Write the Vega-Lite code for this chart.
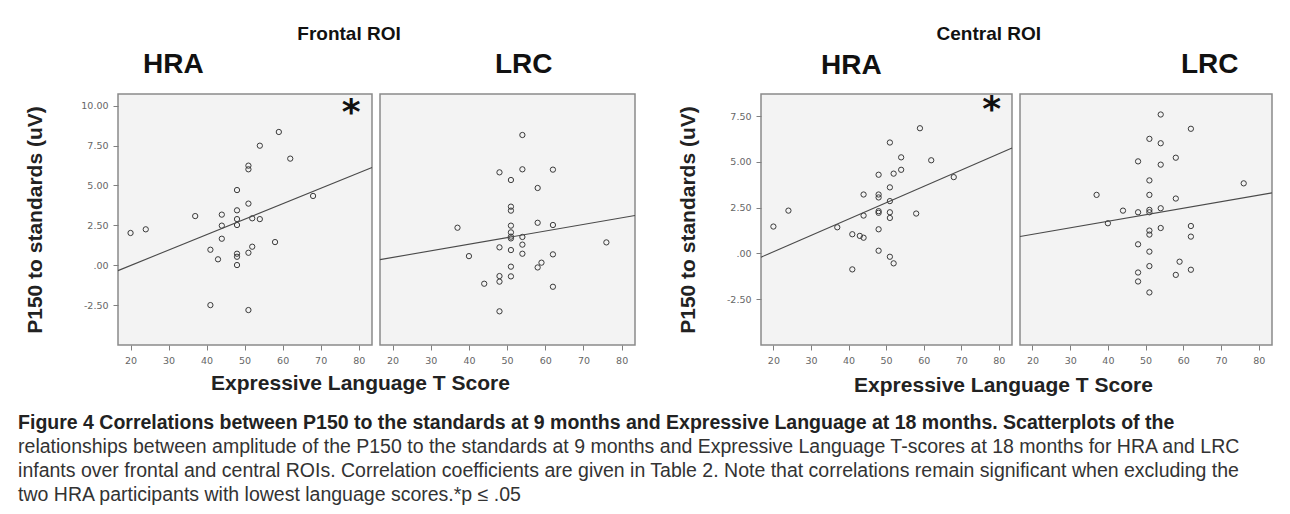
{
  "$schema": "https://vega.github.io/schema/vega-lite/v6.json",
  "background": "white",
  "padding": {"left": 18, "top": 25, "right": 5, "bottom": 3},
  "title": {
    "text": "Figure 4 Correlations between P150 to the standards at 9 months and Expressive Language at 18 months. Scatterplots of the",
    "subtitle": [
      "relationships between amplitude of the P150 to the standards at 9 months and Expressive Language T-scores at 18 months for HRA and LRC",
      "infants over frontal and central ROIs. Correlation coefficients are given in Table 2. Note that correlations remain significant when excluding the",
      "two HRA participants with lowest language scores.*p ≤ .05"
    ],
    "orient": "bottom",
    "anchor": "start",
    "dx": -6,
    "offset": 18,
    "font": "Liberation Sans",
    "fontSize": 19.5,
    "fontWeight": "bold",
    "color": "#222",
    "subtitleFont": "Liberation Sans",
    "subtitleFontSize": 19.5,
    "subtitleColor": "#333",
    "subtitlePadding": 4.5,
    "subtitleLineHeight": 24
  },
  "datasets": {
    "fhra": [
      {"score": 20, "p150": 2.02}, {"score": 24, "p150": 2.25}, {"score": 37, "p150": 3.08}, {"score": 44, "p150": 3.17},
      {"score": 44, "p150": 2.48}, {"score": 44, "p150": 1.66}, {"score": 41, "p150": 0.97}, {"score": 43, "p150": 0.37},
      {"score": 41, "p150": -2.5}, {"score": 48, "p150": 4.71}, {"score": 48, "p150": 3.44}, {"score": 48, "p150": 2.89},
      {"score": 48, "p150": 2.52}, {"score": 48, "p150": 0.72}, {"score": 48, "p150": 0.53}, {"score": 48, "p150": 0.01},
      {"score": 51, "p150": 6.24}, {"score": 51, "p150": 6.01}, {"score": 51, "p150": 3.86}, {"score": 52, "p150": 2.94},
      {"score": 52, "p150": 1.16}, {"score": 51, "p150": 0.78}, {"score": 51, "p150": -2.81}, {"score": 54, "p150": 7.49},
      {"score": 54, "p150": 2.89}, {"score": 58, "p150": 1.45}, {"score": 59, "p150": 8.35}, {"score": 62, "p150": 6.68},
      {"score": 68, "p150": 4.34}
    ],
    "flrc": [
      {"score": 54, "p150": 8.16}, {"score": 48, "p150": 5.82}, {"score": 54, "p150": 6.01}, {"score": 62, "p150": 5.99},
      {"score": 51, "p150": 5.34}, {"score": 58, "p150": 4.84}, {"score": 51, "p150": 3.67}, {"score": 51, "p150": 3.42},
      {"score": 37, "p150": 2.35}, {"score": 51, "p150": 2.48}, {"score": 51, "p150": 2.06}, {"score": 51, "p150": 1.79},
      {"score": 51, "p150": 1.68}, {"score": 54, "p150": 1.77}, {"score": 58, "p150": 2.66}, {"score": 62, "p150": 2.52},
      {"score": 76, "p150": 1.43}, {"score": 48, "p150": 1.12}, {"score": 51, "p150": 0.95}, {"score": 54, "p150": 1.29},
      {"score": 54, "p150": 0.72}, {"score": 40, "p150": 0.57}, {"score": 62, "p150": 0.68}, {"score": 51, "p150": -0.09},
      {"score": 59, "p150": 0.16}, {"score": 58, "p150": -0.14}, {"score": 48, "p150": -0.68}, {"score": 48, "p150": -1.03},
      {"score": 51, "p150": -0.7}, {"score": 44, "p150": -1.16}, {"score": 62, "p150": -1.35}, {"score": 48, "p150": -2.89}
    ],
    "chra": [
      {"score": 20, "p150": 1.47}, {"score": 24, "p150": 2.34}, {"score": 37, "p150": 1.43}, {"score": 41, "p150": 1.05},
      {"score": 43, "p150": 0.96}, {"score": 44, "p150": 0.86}, {"score": 41, "p150": -0.87}, {"score": 44, "p150": 3.22},
      {"score": 44, "p150": 2.07}, {"score": 48, "p150": 4.3}, {"score": 48, "p150": 3.22}, {"score": 48, "p150": 3.06},
      {"score": 48, "p150": 2.31}, {"score": 48, "p150": 2.22}, {"score": 48, "p150": 1.32}, {"score": 48, "p150": 0.15},
      {"score": 51, "p150": 6.06}, {"score": 51, "p150": 3.61}, {"score": 51, "p150": 2.86}, {"score": 51, "p150": 2.25},
      {"score": 51, "p150": 1.94}, {"score": 51, "p150": -0.18}, {"score": 52, "p150": 4.36}, {"score": 52, "p150": -0.54},
      {"score": 54, "p150": 5.25}, {"score": 54, "p150": 4.57}, {"score": 58, "p150": 2.18}, {"score": 59, "p150": 6.84},
      {"score": 62, "p150": 5.09}, {"score": 68, "p150": 4.17}
    ],
    "clrc": [
      {"score": 54, "p150": 7.59}, {"score": 62, "p150": 6.81}, {"score": 51, "p150": 6.26}, {"score": 54, "p150": 6.02},
      {"score": 58, "p150": 5.23}, {"score": 48, "p150": 5.03}, {"score": 54, "p150": 4.85}, {"score": 51, "p150": 3.99},
      {"score": 76, "p150": 3.83}, {"score": 37, "p150": 3.2}, {"score": 51, "p150": 3.2}, {"score": 58, "p150": 3.0},
      {"score": 44, "p150": 2.34}, {"score": 48, "p150": 2.25}, {"score": 51, "p150": 2.38}, {"score": 51, "p150": 2.25},
      {"score": 54, "p150": 2.47}, {"score": 40, "p150": 1.65}, {"score": 51, "p150": 1.25}, {"score": 51, "p150": 1.03},
      {"score": 54, "p150": 1.39}, {"score": 62, "p150": 1.5}, {"score": 62, "p150": 0.92}, {"score": 48, "p150": 0.5},
      {"score": 51, "p150": 0.1}, {"score": 59, "p150": -0.45}, {"score": 51, "p150": -0.69}, {"score": 48, "p150": -1.04},
      {"score": 58, "p150": -1.17}, {"score": 62, "p150": -0.89}, {"score": 48, "p150": -1.53}, {"score": 51, "p150": -2.13}
    ]
  },
  "spacing": 38,
  "hconcat": [
    {
      "title": {"text": "Frontal ROI", "font": "Liberation Sans", "fontSize": 19, "fontWeight": "bold", "anchor": "middle", "baseline": "bottom", "dx": 18, "offset": -13, "color": "#111"},
      "bounds": "flush",
      "spacing": 8,
      "hconcat": [
        {
          "width": 254, "height": 251,
          "data": {"name": "fhra"},
          "title": {"text": "HRA", "font": "Liberation Sans", "fontSize": 28, "fontWeight": "bold", "anchor": "start", "frame": "group", "dx": 25, "offset": -13, "baseline": "bottom", "color": "#111"},
          "encoding": {
            "x": {"field": "score", "type": "quantitative", "scale": {"domain": [16.7, 83.5], "nice": false, "zero": false},
                  "axis": {"values": [20, 30, 40, 50, 60, 70, 80], "format": "d", "title": "Expressive Language T Score", "titleX": 242, "titleAlign": "center", "titlePadding": 8}},
            "y": {"field": "p150", "type": "quantitative", "scale": {"domain": [-5, 10.73], "nice": false, "zero": false},
                  "axis": {"values": [-2.5, 0, 2.5, 5, 7.5, 10], "labelExpr": "datum.value == 0 ? '.00' : replace(format(datum.value, '.2f'), '\u2212', '-')", "title": "P150 to standards (uV)", "titlePadding": 35}}
          },
          "layer": [
            {"mark": {"type": "point", "filled": false, "stroke": "#3a3a3a", "strokeWidth": 1, "size": 28, "opacity": 1}},
            {"transform": [{"regression": "p150", "on": "score", "extent": [16.7, 83.5]}], "mark": {"type": "line", "color": "#4a4a4a", "strokeWidth": 1.1}},
            {"data": {"values": [{"score": 78.0, "p150": 8.85, "sym": "*"}]}, "mark": {"type": "text", "font": "DejaVu Sans", "fontWeight": "bold", "fontSize": 36, "baseline": "alphabetic", "align": "center", "color": "#111"}, "encoding": {"text": {"field": "sym"}}}
          ]
        },
        {
          "width": 255, "height": 251,
          "data": {"name": "flrc"},
          "title": {"text": "LRC", "font": "Liberation Sans", "fontSize": 28, "fontWeight": "bold", "anchor": "start", "frame": "group", "dx": 115, "offset": -13, "baseline": "bottom", "color": "#111"},
          "encoding": {
            "x": {"field": "score", "type": "quantitative", "scale": {"domain": [16.7, 83.5], "nice": false, "zero": false},
                  "axis": {"values": [20, 30, 40, 50, 60, 70, 80], "format": "d", "title": null}},
            "y": {"field": "p150", "type": "quantitative", "scale": {"domain": [-5, 10.73], "nice": false, "zero": false}, "axis": null}
          },
          "layer": [
            {"mark": {"type": "point", "filled": false, "stroke": "#3a3a3a", "strokeWidth": 1, "size": 28, "opacity": 1}},
            {"transform": [{"regression": "p150", "on": "score", "extent": [16.7, 83.5]}], "mark": {"type": "line", "color": "#4a4a4a", "strokeWidth": 1.1}}
          ]
        }
      ]
    },
    {
      "title": {"text": "Central ROI", "font": "Liberation Sans", "fontSize": 19, "fontWeight": "bold", "anchor": "middle", "baseline": "bottom", "dx": 13, "offset": -13, "color": "#111"},
      "bounds": "flush",
      "spacing": 8,
      "hconcat": [
        {
          "width": 251, "height": 251,
          "data": {"name": "chra"},
          "title": {"text": "HRA", "font": "Liberation Sans", "fontSize": 28, "fontWeight": "bold", "anchor": "start", "frame": "group", "dx": 60, "offset": -16, "baseline": "bottom", "color": "#111"},
          "encoding": {
            "x": {"field": "score", "type": "quantitative", "scale": {"domain": [16.7, 83.5], "nice": false, "zero": false},
                  "axis": {"values": [20, 30, 40, 50, 60, 70, 80], "format": "d", "title": "Expressive Language T Score", "titleX": 242, "titleAlign": "center", "titlePadding": 10}},
            "y": {"field": "p150", "type": "quantitative", "scale": {"domain": [-5, 8.71], "nice": false, "zero": false},
                  "axis": {"values": [-2.5, 0, 2.5, 5, 7.5], "labelExpr": "datum.value == 0 ? '.00' : replace(format(datum.value, '.2f'), '\u2212', '-')", "title": "P150 to standards (uV)", "titlePadding": 28}}
          },
          "layer": [
            {"mark": {"type": "point", "filled": false, "stroke": "#3a3a3a", "strokeWidth": 1, "size": 28, "opacity": 1}},
            {"transform": [{"regression": "p150", "on": "score", "extent": [16.7, 83.5]}], "mark": {"type": "line", "color": "#4a4a4a", "strokeWidth": 1.1}},
            {"data": {"values": [{"score": 78.1, "p150": 7.22, "sym": "*"}]}, "mark": {"type": "text", "font": "DejaVu Sans", "fontWeight": "bold", "fontSize": 36, "baseline": "alphabetic", "align": "center", "color": "#111"}, "encoding": {"text": {"field": "sym"}}}
          ]
        },
        {
          "width": 252, "height": 251,
          "data": {"name": "clrc"},
          "title": {"text": "LRC", "font": "Liberation Sans", "fontSize": 28, "fontWeight": "bold", "anchor": "start", "frame": "group", "dx": 161, "offset": -13, "baseline": "bottom", "color": "#111"},
          "encoding": {
            "x": {"field": "score", "type": "quantitative", "scale": {"domain": [16.7, 83.5], "nice": false, "zero": false},
                  "axis": {"values": [20, 30, 40, 50, 60, 70, 80], "format": "d", "title": null}},
            "y": {"field": "p150", "type": "quantitative", "scale": {"domain": [-5, 8.71], "nice": false, "zero": false}, "axis": null}
          },
          "layer": [
            {"mark": {"type": "point", "filled": false, "stroke": "#3a3a3a", "strokeWidth": 1, "size": 28, "opacity": 1}},
            {"transform": [{"regression": "p150", "on": "score", "extent": [16.7, 83.5]}], "mark": {"type": "line", "color": "#4a4a4a", "strokeWidth": 1.1}}
          ]
        }
      ]
    }
  ],
  "config": {
    "font": "Liberation Sans",
    "view": {"stroke": "#8a8a8a", "strokeWidth": 1.5, "fill": "#f3f3f3"},
    "axis": {"grid": false, "domain": false, "tickColor": "#808080", "tickSize": 5, "labelFont": "DejaVu Sans", "labelFontSize": 9.5, "labelColor": "#666", "labelPadding": 5, "titleFont": "Liberation Sans", "titleFontSize": 21, "titleFontWeight": "bold", "titleColor": "#222"}
  }
}
